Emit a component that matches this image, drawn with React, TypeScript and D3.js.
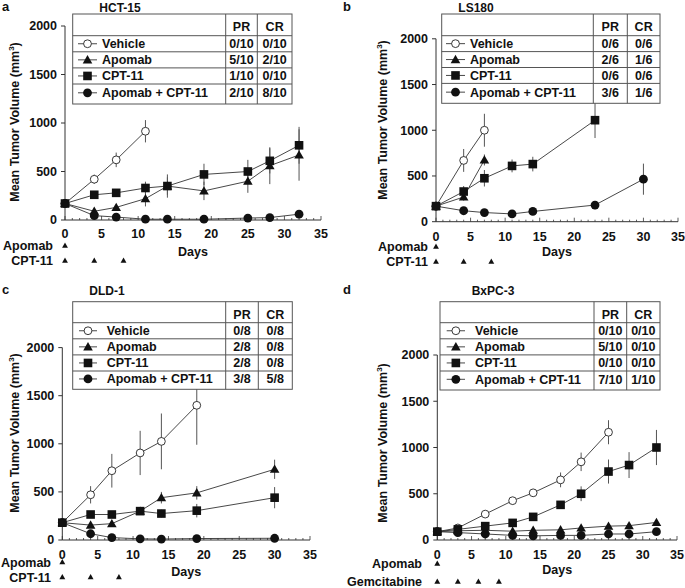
import React from 'react';
import * as d3 from 'd3';

type Pt = [number, number, number]; // [day, mean, sem]

// ---- HCT-15 ----
const hctVehicle: Pt[] = [[0, 170, 0], [4, 420, 48], [7, 620, 75], [11, 915, 115]];
const hctApomab: Pt[] = [[0, 170, 0], [4, 90, 30], [7, 130, 30], [11, 220, 80], [14, 350, 120], [19, 300, 95], [25, 400, 120], [28, 560, 190], [32, 670, 265]];
const hctCpt: Pt[] = [[0, 170, 0], [4, 260, 30], [7, 280, 30], [11, 330, 65], [14, 350, 90], [19, 470, 110], [25, 500, 120], [28, 610, 130], [32, 770, 190]];
const hctCombo: Pt[] = [[0, 170, 0], [4, 45, 20], [7, 30, 10], [11, 8, 5], [14, 8, 5], [19, 8, 5], [25, 20, 10], [28, 25, 10], [32, 60, 20]];
const hctPR = ['0/10', '5/10', '1/10', '2/10'];
const hctCR = ['0/10', '2/10', '0/10', '8/10'];

// ---- LS180 ----
const lsVehicle: Pt[] = [[0, 170, 0], [4, 670, 125], [7, 1000, 180]];
const lsApomab: Pt[] = [[0, 170, 0], [4, 270, 40], [7, 675, 60]];
const lsCpt: Pt[] = [[0, 170, 0], [4, 330, 60], [7, 475, 90], [11, 610, 70], [14, 630, 80], [23, 1110, 195]];
const lsCombo: Pt[] = [[0, 170, 0], [4, 120, 20], [7, 100, 15], [11, 85, 15], [14, 112, 15], [23, 182, 45], [30, 465, 170]];
const lsPR = ['0/6', '2/6', '0/6', '3/6'];
const lsCR = ['0/6', '1/6', '0/6', '1/6'];

// ---- DLD-1 ----
const dldVehicle: Pt[] = [[0, 180, 0], [4, 470, 90], [7, 720, 175], [11, 905, 230], [14, 1025, 290], [19, 1400, 410]];
const dldApomab: Pt[] = [[0, 180, 0], [4, 155, 30], [7, 170, 30], [11, 300, 40], [14, 440, 60], [19, 490, 70], [30, 735, 100]];
const dldCpt: Pt[] = [[0, 180, 0], [4, 265, 30], [7, 265, 30], [11, 300, 30], [14, 275, 40], [19, 305, 70], [30, 440, 110]];
const dldCombo: Pt[] = [[0, 180, 0], [4, 65, 20], [7, 25, 10], [11, 12, 5], [14, 10, 5], [19, 15, 5], [30, 18, 5]];
const dldPR = ['0/8', '2/8', '2/8', '3/8'];
const dldCR = ['0/8', '0/8', '0/8', '5/8'];

// ---- BxPC-3 ----
const bxVehicle: Pt[] = [[0, 90, 0], [3, 130, 20], [7, 280, 30], [11, 425, 40], [14, 510, 30], [18, 650, 80], [21, 845, 100], [25, 1165, 130]];
const bxApomab: Pt[] = [[0, 90, 0], [3, 100, 15], [7, 105, 15], [11, 95, 15], [14, 105, 15], [18, 110, 15], [21, 130, 15], [25, 150, 20], [28, 155, 20], [32, 190, 25]];
const bxCpt: Pt[] = [[0, 90, 0], [3, 115, 20], [7, 150, 20], [11, 185, 20], [14, 250, 25], [18, 380, 40], [21, 500, 80], [25, 740, 130], [28, 810, 140], [32, 1000, 190]];
const bxCombo: Pt[] = [[0, 90, 0], [3, 80, 15], [7, 65, 15], [11, 50, 10], [14, 45, 10], [18, 50, 10], [21, 50, 10], [25, 65, 15], [28, 65, 15], [32, 90, 15]];
const bxPR = ['0/10', '5/10', '0/10', '7/10'];
const bxCR = ['0/10', '0/10', '0/10', '1/10'];

const seriesNames = ['Vehicle', 'Apomab', 'CPT-11', 'Apomab + CPT-11'];
const markerKinds = ['open', 'triangle', 'square', 'circle'];
const dayTicks = [0, 5, 10, 15, 20, 25, 30, 35];
const volumeTicks = [0, 500, 1000, 1500, 2000];

const FONT = '"Liberation Sans", Arial, Helvetica, sans-serif';

interface Panel {
  letter: string; lx: number; ly: number;
  title: string; tx: number; ty: number;
  xr: [number, number]; yr: [number, number];
  table: { l: number; t: number; r: number; b: number; c1: number; c2: number; h: number; row: number; sx0: number; sx1: number; textX: number };
  ylab: { x: number; y: number };
  tickY: number; daysY: number;
  treat: { label: string; days: number[]; y: number }[];
  treatRight: number;
  series: Pt[][]; pr: string[]; cr: string[];
}

const panels: Panel[] = [
  {
    letter: 'a', lx: 2, ly: 11, title: 'HCT-15', tx: 120, ty: 12,
    xr: [65, 321], yr: [220, 26],
    table: { l: 72.7, t: 14, r: 292, b: 104, c1: 225.7, c2: 257.3, h: 35.7, row: 16.1, sx0: 78, sx1: 97, textX: 102 },
    ylab: { x: 19, y: 122 }, tickY: 238, daysY: 256,
    treat: [{ label: 'Apomab', days: [0], y: 246 }, { label: 'CPT-11', days: [0, 4, 8], y: 261 }], treatRight: 53,
    series: [hctVehicle, hctApomab, hctCpt, hctCombo], pr: hctPR, cr: hctCR,
  },
  {
    letter: 'b', lx: 343, ly: 11, title: 'LS180', tx: 476, ty: 12,
    xr: [436, 678], yr: [221.7, 38.8],
    table: { l: 441.7, t: 14, r: 660, b: 103.3, c1: 593.3, c2: 627.3, h: 35.7, row: 15.9, sx0: 446, sx1: 465, textX: 470 },
    ylab: { x: 387, y: 120 }, tickY: 241, daysY: 256,
    treat: [{ label: 'Apomab', days: [0], y: 247 }, { label: 'CPT-11', days: [0, 4, 8], y: 262 }], treatRight: 428,
    series: [lsVehicle, lsApomab, lsCpt, lsCombo], pr: lsPR, cr: lsCR,
  },
  {
    letter: 'c', lx: 2, ly: 294, title: 'DLD-1', tx: 107, ty: 295,
    xr: [62.3, 310], yr: [540, 347.6],
    table: { l: 72.7, t: 301.7, r: 292.3, b: 389.3, c1: 225.7, c2: 258.3, h: 322.7, row: 16.1, sx0: 79, sx1: 97, textX: 106.7 },
    ylab: { x: 19, y: 433 }, tickY: 559, daysY: 576,
    treat: [{ label: 'Apomab', days: [0], y: 562.5 }, { label: 'CPT-11', days: [0, 4, 8], y: 577.5 }], treatRight: 51,
    series: [dldVehicle, dldApomab, dldCpt, dldCombo], pr: dldPR, cr: dldCR,
  },
  {
    letter: 'd', lx: 343, ly: 294, title: 'BxPC-3', tx: 493, ty: 295,
    xr: [437.3, 677], yr: [540, 355],
    table: { l: 440, t: 301.7, r: 660, b: 390, c1: 594, c2: 626.7, h: 322.7, row: 16.1, sx0: 446.7, sx1: 465, textX: 475 },
    ylab: { x: 387, y: 443 }, tickY: 559, daysY: 574,
    treat: [{ label: 'Apomab', days: [0], y: 564 }, { label: 'Gemcitabine', days: [0, 3, 6, 9], y: 582 }], treatRight: 422,
    series: [bxVehicle, bxApomab, bxCpt, bxCombo], pr: bxPR, cr: bxCR,
  },
];

const triPath = d3.symbol().type(d3.symbolTriangle).size(40)() as string;
const smallTri = d3.symbol().type(d3.symbolTriangle).size(15)() as string;

function Marker({ kind, x, y }: { kind: string; x: number; y: number }) {
  if (kind === 'open') return <circle cx={x} cy={y} r={3.9} fill="#fff" stroke="#222" strokeWidth={0.9} />;
  if (kind === 'circle') return <circle cx={x} cy={y} r={4.4} fill="#111" />;
  if (kind === 'square') return <rect x={x - 4.3} y={y - 4.3} width={8.6} height={8.6} fill="#111" />;
  return <path d={triPath} transform={`translate(${x},${y + 0.8})`} fill="#111" />;
}

function PanelView({ p }: { p: Panel }) {
  const x = d3.scaleLinear().domain([0, 35]).range(p.xr);
  const y = d3.scaleLinear().domain([0, 2000]).range(p.yr);
  const line = d3.line<Pt>().x(d => x(d[0])).y(d => y(d[1]));
  const minor = d3.range(0, 36);
  const t = p.table;
  const rowLines = [t.h, t.h + t.row, t.h + 2 * t.row, t.h + 3 * t.row, t.b];
  return (
    <g>
      <text x={p.lx} y={p.ly} fontSize={13} fontWeight="bold">{p.letter}</text>
      <text x={p.tx} y={p.ty} fontSize={12} fontWeight="bold" textAnchor="middle">{p.title}</text>
      {/* axes */}
      <line x1={p.xr[0]} x2={p.xr[1]} y1={p.yr[0]} y2={p.yr[0]} stroke="#333" strokeWidth={1} />
      <line x1={p.xr[0]} x2={p.xr[0]} y1={p.yr[0]} y2={p.yr[1]} stroke="#333" strokeWidth={1} />
      {minor.map(d => (
        <line key={'m' + d} x1={x(d)} x2={x(d)} y1={p.yr[0]} y2={p.yr[0] - (d % 5 === 0 ? 4 : 2)} stroke="#333" strokeWidth={0.8} />
      ))}
      {dayTicks.map(d => (
        <text key={'xt' + d} x={x(d)} y={p.tickY} fontSize={12.5} fontWeight="bold" textAnchor="middle">{d}</text>
      ))}
      {volumeTicks.map(v => (
        <g key={'yt' + v}>
          <line x1={p.xr[0] - 4} x2={p.xr[0]} y1={y(v)} y2={y(v)} stroke="#333" strokeWidth={1} />
          <text x={p.xr[0] - 8} y={y(v) + 4.3} fontSize={12.5} fontWeight="bold" textAnchor="end">{v}</text>
        </g>
      ))}
      <text x={(p.xr[0] + p.xr[1]) / 2} y={p.daysY} fontSize={12.5} fontWeight="bold" textAnchor="middle">Days</text>
      <text transform={`translate(${p.ylab.x},${p.ylab.y}) rotate(-90)`} fontSize={12.5} fontWeight="bold" textAnchor="middle">
        Mean Tumor Volume (mm<tspan fontSize={8} dy={-5}>3</tspan><tspan dy={5}>)</tspan>
      </text>
      {/* treatment schedule */}
      {p.treat.map(tr => (
        <g key={tr.label}>
          <text x={p.treatRight} y={tr.y + 4.3} fontSize={12.5} fontWeight="bold" textAnchor="end">{tr.label}</text>
          {tr.days.map(d => (
            <path key={d} d={smallTri} transform={`translate(${x(d)},${tr.y})`} fill="#111" />
          ))}
        </g>
      ))}
      {/* error bars */}
      {p.series.map((s, i) => s.filter(d => d[2] > 0).map(d => (
        <line key={`e${i}-${d[0]}`} x1={x(d[0])} x2={x(d[0])} y1={y(Math.max(0, d[1] - d[2]))} y2={y(d[1] + d[2])} stroke="#555" strokeWidth={1} />
      )))}
      {/* lines */}
      {p.series.map((s, i) => (
        <path key={'l' + i} d={line(s) as string} fill="none" stroke="#333" strokeWidth={0.9} />
      ))}
      {/* markers */}
      {p.series.map((s, i) => s.map(d => (
        <Marker key={`m${i}-${d[0]}`} kind={markerKinds[i]} x={x(d[0])} y={y(d[1])} />
      )))}
      {/* table */}
      <rect x={t.l} y={t.t} width={t.r - t.l} height={t.b - t.t} fill="#fff" stroke="#555" strokeWidth={1} />
      {rowLines.slice(0, 4).map((ly, i) => (
        <line key={'rl' + i} x1={t.l} x2={t.r} y1={ly} y2={ly} stroke="#555" strokeWidth={1} />
      ))}
      <line x1={t.c1} x2={t.c1} y1={t.t} y2={t.b} stroke="#555" strokeWidth={1} />
      <line x1={t.c2} x2={t.c2} y1={t.t} y2={t.b} stroke="#555" strokeWidth={1} />
      <text x={(t.c1 + t.c2) / 2} y={t.t + 17} fontSize={12.5} fontWeight="bold" textAnchor="middle">PR</text>
      <text x={(t.c2 + t.r) / 2} y={t.t + 17} fontSize={12.5} fontWeight="bold" textAnchor="middle">CR</text>
      {seriesNames.map((name, i) => {
        const cy = (rowLines[i] + rowLines[i + 1]) / 2 - (i === 3 ? 1.2 : 0);
        const mx = (t.sx0 + t.sx1) / 2;
        return (
          <g key={'lg' + i}>
            <line x1={t.sx0} x2={t.sx1} y1={cy} y2={cy} stroke="#333" strokeWidth={0.9} />
            <Marker kind={markerKinds[i]} x={mx} y={cy} />
            <text x={t.textX} y={cy + 4.4} fontSize={12.5} fontWeight="bold">{name}</text>
            <text x={(t.c1 + t.c2) / 2} y={cy + 4.4} fontSize={12.5} fontWeight="bold" textAnchor="middle">{p.pr[i]}</text>
            <text x={(t.c2 + t.r) / 2} y={cy + 4.4} fontSize={12.5} fontWeight="bold" textAnchor="middle">{p.cr[i]}</text>
          </g>
        );
      })}
    </g>
  );
}

export default function App() {
  return (
    <svg width={685} height={588} viewBox="0 0 685 588"
      style={{ position: 'absolute', left: 0, top: 0, background: '#fff' }}
      fontFamily={FONT} fill="#111">
      <rect x={0} y={0} width={685} height={588} fill="#fff" />
      {panels.map(p => <PanelView key={p.letter} p={p} />)}
    </svg>
  );
}
